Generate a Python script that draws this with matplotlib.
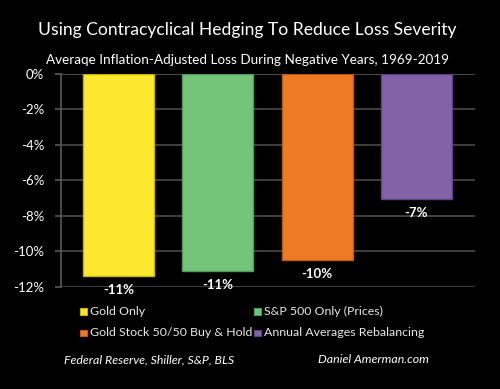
'''
contracyclical hedging loss severity bar chart
'''
import numpy as np
import matplotlib
matplotlib.use('Agg')
import matplotlib.pyplot as plt
from matplotlib.patches import Rectangle

strategies = ['Gold Only', 'S&P 500 Only (Prices)',
              'Gold Stock 50/50 Buy & Hold', 'Annual Averages Rebalancing']
avg_loss = [-11.4, -11.1, -10.5, -7.05]
bar_labels = ['-11%', '-11%', '-10%', '-7%']
yticks = [0, -2, -4, -6, -8, -10, -12]
ytick_labels = ['0%', '-2%', '-4%', '-6%', '-8%', '-10%', '-12%']

colors = ['#fde82f', '#74c47a', '#f07b27', '#8462a8']
edges = ['#c9b400', '#4f9e57', '#c05a12', '#5f4385']

plt.rcParams['font.family'] = ['Lato', 'DejaVu Sans']

fig = plt.figure(figsize=(5.0, 3.89), dpi=100, facecolor='black')
ax = fig.add_axes([0.122, 0.263, 0.828, 0.547])
ax.set_facecolor('black')

x = np.arange(len(avg_loss))
for yv in yticks[1:]:
    ax.axhline(yv, color='#4a4a4a', lw=1.2, zorder=0)
ax.axhline(0, color='#5a5a5a', lw=1.2, zorder=0)

bars = ax.bar(x, avg_loss, width=0.715, color=colors, edgecolor=edges,
              linewidth=1.0, zorder=2)

for xi, v, lab in zip(x, avg_loss, bar_labels):
    ax.text(xi, v - 0.45, lab, ha='center', va='top', color='white',
            fontsize=9.5, fontweight='bold', zorder=3)

ax.set_xlim(-0.579, 3.589)
ax.set_ylim(-12, 0)
ax.set_yticks(yticks)
ax.set_yticklabels(ytick_labels, color='white', fontsize=9.5)
ax.set_xticks([])
ax.tick_params(axis='y', length=4, color='#5a5a5a', width=1.2, pad=8)
for side in ['top', 'right', 'bottom']:
    ax.spines[side].set_visible(False)
ax.spines['left'].set_color('#5a5a5a')
ax.spines['left'].set_linewidth(1.2)

fig.text(0.495, 0.922, 'Using Contracyclical Hedging To Reduce Loss Severity',
         ha='center', va='center', color='white', fontsize=12.6)
fig.text(0.494, 0.846, 'Averaqe Inflation-Adjusted Loss During Negative Years, 1969-2019',
         ha='center', va='center', color='white', fontsize=9.7)

# legend, two columns filled row by row
col_x = [0.160, 0.508]
row_y = [0.200, 0.144]
for i, (name, c, e) in enumerate(zip(strategies, colors, edges)):
    cx = col_x[i % 2]
    ry = row_y[i // 2]
    fig.patches.append(Rectangle((cx, ry - 0.0085), 0.013, 0.017,
                                 facecolor=c, edgecolor=e, lw=0.8,
                                 transform=fig.transFigure, figure=fig))
    fig.text(cx + 0.020, ry, name, ha='left', va='center',
             color='#e8e8e8', fontsize=8.9)

fig.text(0.128, 0.075, 'Federal Reserve, Shiller, S&P, BLS', ha='left',
         va='center', color='white', fontsize=8.9, style='italic')
fig.text(0.636, 0.075, 'Daniel Amerman.com', ha='left', va='center',
         color='white', fontsize=8.9, style='italic')

fig.savefig('out.png', dpi=100, facecolor='black')
plt.close()
